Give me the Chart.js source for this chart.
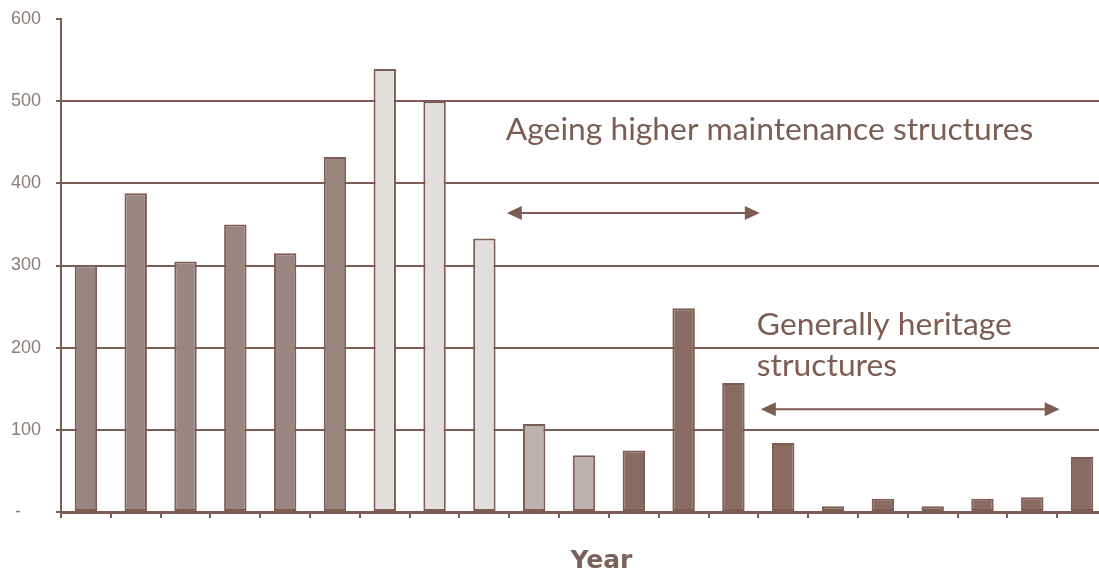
<!DOCTYPE html>
<html>
<head>
<meta charset="utf-8">
<script src="https://cdn.jsdelivr.net/npm/chart.js@4.4.1/dist/chart.umd.min.js"></script>
<style>
  html, body { margin: 0; padding: 0; background: #ffffff; overflow: hidden; }
  #wrap { position: absolute; left: 0; top: 0; width: 1108px; height: 576px; }
</style>
</head>
<body>
<div id="wrap"><canvas id="chart" width="1108" height="576"></canvas></div>
<script>
// Construction periods (unlabelled on the axis), oldest first
const periods = ['P1','P2','P3','P4','P5','P6','P7','P8','P9','P10','P11',
                 'P12','P13','P14','P15','P16','P17','P18','P19','P20','P21'];
// Number of structures built in each period
const structureCounts = [300, 388, 305, 350, 315, 432, 539, 500, 333, 107, 69,
                         75, 248, 157, 84, 7, 16, 7, 16, 18, 67];
// Shading group of each period
const periodGroup = [0, 0, 0, 0, 0, 0, 1, 1, 1, 2, 2,
                     3, 3, 3, 3, 3, 3, 3, 3, 3, 3];
const yTicks = [0, 100, 200, 300, 400, 500, 600];

const groupFill = ['#9a8680', '#e2dedd', '#bcb1ae', '#8a6b62'];
const brown = '#7d5d53';
const tickGrey = '#8c7d79';

// Callouts placed in axis units (x: category index, y: count)
const callouts = [
  { text: 'Ageing higher maintenance structures', x: 8.43, y: 465 },
  { text: 'Generally heritage', x: 13.47, y: 228 },
  { text: 'structures', x: 13.47, y: 178 }
];
const arrows = [
  { x1: 8.45, x2: 13.53, y: 364 },
  { x1: 13.55, x2: 19.55, y: 125 }
];
const xTitle = { text: 'Year', x: 10.35 };

const annotationPlugin = {
  id: 'callouts',
  afterDatasetsDraw(chart) {
    const { ctx, scales: { x, y } } = chart;
    ctx.save();
    ctx.fillStyle = brown;
    ctx.strokeStyle = brown;
    ctx.font = '31.8px Lato, "Open Sans", sans-serif';
    ctx.textBaseline = 'middle';
    ctx.textAlign = 'left';
    callouts.forEach(c => ctx.fillText(c.text, x.getPixelForValue(c.x), y.getPixelForValue(c.y)));
    arrows.forEach(a => {
      const px1 = x.getPixelForValue(a.x1), px2 = x.getPixelForValue(a.x2), py = y.getPixelForValue(a.y);
      const head = 15, half = 7;
      ctx.lineWidth = 2;
      ctx.beginPath();
      ctx.moveTo(px1 + head - 2, py);
      ctx.lineTo(px2 - head + 2, py);
      ctx.stroke();
      ctx.beginPath();
      ctx.moveTo(px1, py);
      ctx.lineTo(px1 + head, py - half);
      ctx.lineTo(px1 + head, py + half);
      ctx.closePath();
      ctx.fill();
      ctx.beginPath();
      ctx.moveTo(px2, py);
      ctx.lineTo(px2 - head, py - half);
      ctx.lineTo(px2 - head, py + half);
      ctx.closePath();
      ctx.fill();
    });
    ctx.font = 'bold 25px "DejaVu Sans", sans-serif';
    ctx.textAlign = 'center';
    ctx.textBaseline = 'alphabetic';
    ctx.fillStyle = '#7a625b';
    ctx.fillText(xTitle.text, x.getPixelForValue(xTitle.x), 568);
    ctx.restore();
  }
};

new Chart(document.getElementById('chart'), {
  type: 'bar',
  data: {
    labels: periods,
    datasets: [{
      data: structureCounts,
      backgroundColor: periodGroup.map(g => groupFill[g]),
      borderColor: brown,
      borderWidth: 2,
      borderSkipped: false,
      categoryPercentage: 1,
      barPercentage: 0.45
    }]
  },
  options: {
    responsive: false,
    animation: false,
    layout: { padding: { top: 19, right: 1, bottom: 0, left: 0 } },
    plugins: { legend: { display: false }, tooltip: { enabled: false } },
    scales: {
      x: {
        offset: true,
        grid: { offset: true, drawOnChartArea: false, drawTicks: true, tickLength: 6, color: brown, lineWidth: 2 },
        border: { display: true, color: brown, width: 3 },
        ticks: { display: false },
        afterFit(s) { s.height = 64; s.paddingLeft = 0; s.paddingRight = 0; }
      },
      y: {
        min: 0,
        max: 600,
        afterBuildTicks(s) { s.ticks = yTicks.map(v => ({ value: v })); },
        grid: {
          color: c => (c.tick && c.tick.value === 600) ? 'rgba(0,0,0,0)' : brown,
          tickColor: brown,
          lineWidth: 2,
          tickLength: 5,
          drawTicks: true
        },
        border: { display: true, color: brown, width: 2 },
        ticks: {
          padding: 15,
          color: tickGrey,
          font: { family: '"Liberation Sans", Arial, sans-serif', size: 18 },
          callback: v => v === 0 ? '-    ' : String(v)
        },
        afterFit(s) { s.width = 61; s.paddingTop = 0; s.paddingBottom = 0; }
      }
    }
  },
  plugins: [annotationPlugin]
});
</script>
</body>
</html>
